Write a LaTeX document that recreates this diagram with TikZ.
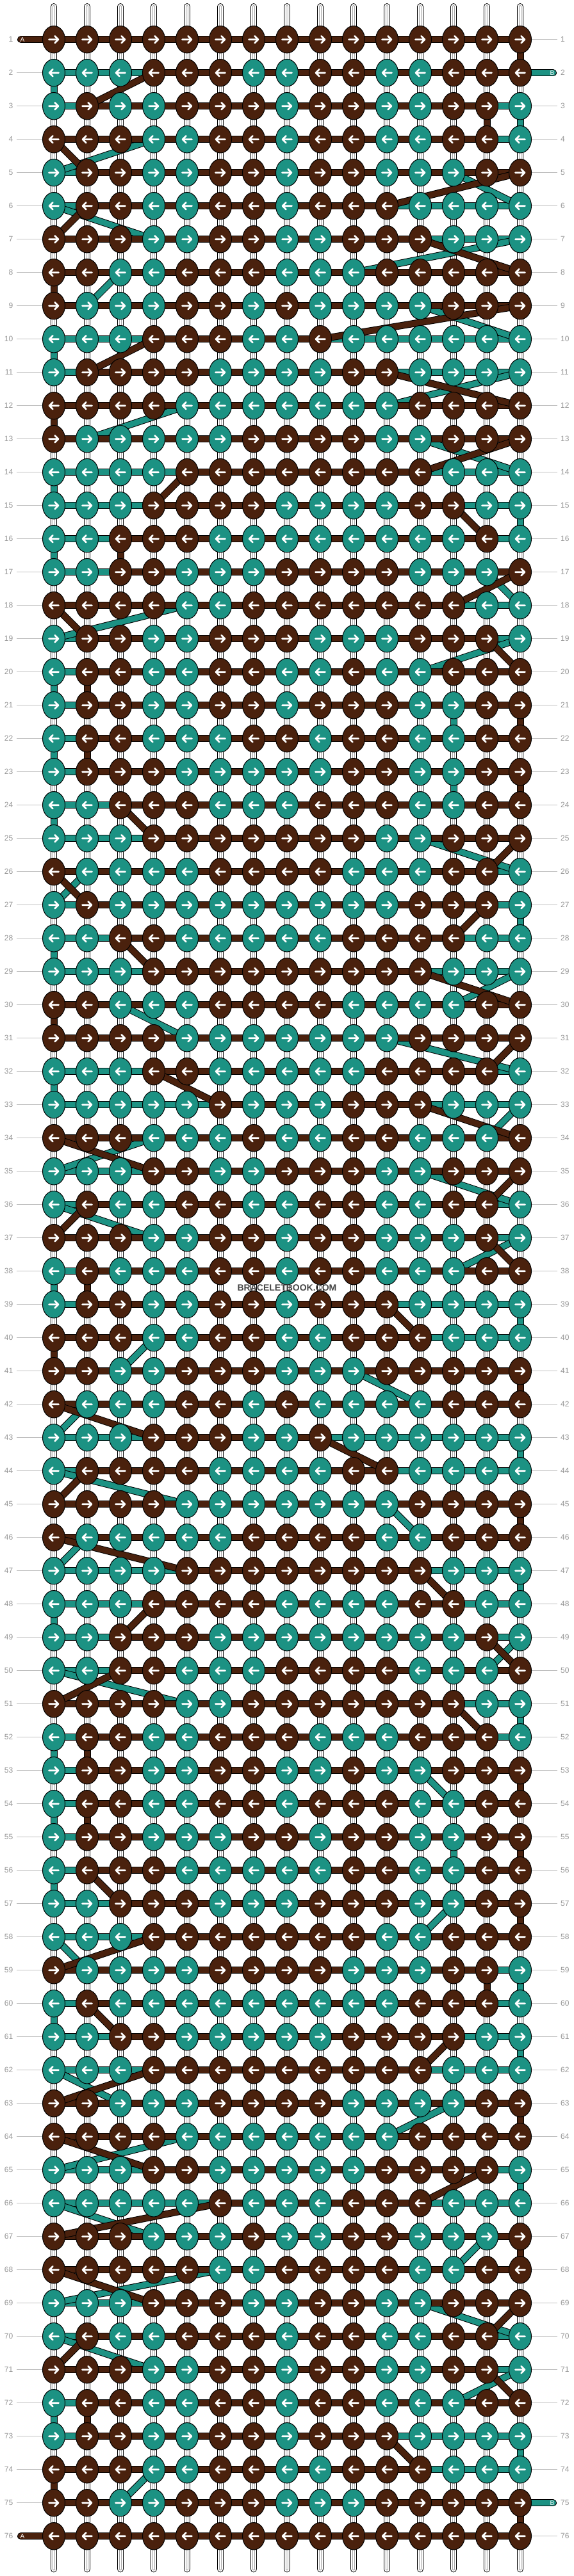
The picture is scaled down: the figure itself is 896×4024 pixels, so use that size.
\documentclass[tikz,border=0pt]{standalone}
\usepackage{fontspec}
\setmainfont{Liberation Sans}
\usepackage{xstring}
\usetikzlibrary{shapes.geometric}
\definecolor{colA}{RGB}{74,33,13}
\definecolor{colB}{RGB}{28,146,131}
\definecolor{lblgray}{RGB}{150,150,150}
\definecolor{linegray}{RGB}{190,190,190}
\definecolor{strgray}{RGB}{165,165,165}
\pgfdeclarelayer{back}
\pgfdeclarelayer{strands}
\pgfsetlayers{back,strands,main}
\newcommand\defrow[2]{\expandafter\gdef\csname pat#1\endcsname{#2}}
\defrow{1}{AAAAAAAAAAAAAAA}
\defrow{2}{TTTAAATTAATTAAA}
\defrow{3}{TATTAAATAATTAAT}
\defrow{4}{AAATTAATAATTAAT}
\defrow{5}{TAATTAATAATTTAA}
\defrow{6}{TAATTAATAAATTTT}
\defrow{7}{AAATTAATTAAATTT}
\defrow{8}{AATTAAATTTAAAAA}
\defrow{9}{ATTTAATATTTTAAA}
\defrow{10}{TTTAAATTATTTTTT}
\defrow{11}{TAAAATTTTAATTTT}
\defrow{12}{AAAATTTTTTTAAAA}
\defrow{13}{ATTTTTAAAATTAAA}
\defrow{14}{TTTTAAAAAAAATTT}
\defrow{15}{TTTAAAATTTTAATT}
\defrow{16}{TTAAATTTTTTTTAT}
\defrow{17}{TTAATTTAAAATTTA}
\defrow{18}{AAAATTAAAAAAATT}
\defrow{19}{TAATTAAATTTAAAT}
\defrow{20}{TAATTAATTATTAAA}
\defrow{21}{TAATTAATAAATTAA}
\defrow{22}{TAATTTAATAATTAA}
\defrow{23}{TAAATTTTTAATTAA}
\defrow{24}{TTAAATTTAAATTAA}
\defrow{25}{TTTAAAAAAATTAAA}
\defrow{26}{ATTTTAAAATTTAAT}
\defrow{27}{TATTTTTTTTTAAAT}
\defrow{28}{TTAATTTTTAAAATT}
\defrow{29}{TTTAAAAAAAAATTT}
\defrow{30}{AATTTAAAATTTTAA}
\defrow{31}{AAAATTTTTTTAAAA}
\defrow{32}{TTTAATTTTTAAAAT}
\defrow{33}{TTTTTATTTAAATTT}
\defrow{34}{AAATTTATTAATTTA}
\defrow{35}{TTTAATTAAATTAAA}
\defrow{36}{TATTAATTAATTAAT}
\defrow{37}{AAATTAATAATTTAT}
\defrow{38}{TATTTAATAATTTAA}
\defrow{39}{TAATTAATAAATTTT}
\defrow{40}{AAATTAATTAAATTT}
\defrow{41}{AATTAAATTTAAAAA}
\defrow{42}{ATTTAATATTTTAAA}
\defrow{43}{TTTAAATTATTTTTT}
\defrow{44}{TAAAATTTTAATTTT}
\defrow{45}{AAAATTTTTTTAAAA}
\defrow{46}{ATTTTTAAAATTAAA}
\defrow{47}{TTTTAAAAAAAATTT}
\defrow{48}{TTTAAAATTTTAATT}
\defrow{49}{TTAAATTTTTTTTAT}
\defrow{50}{TTAATTTAAAATTTA}
\defrow{51}{AAAATTAAAAAAATT}
\defrow{52}{TAATTAAATTTAAAT}
\defrow{53}{TAATTAATTATTAAA}
\defrow{54}{TAATTAATAAATTAA}
\defrow{55}{TAATTTAATAATTAA}
\defrow{56}{TAAATTTTTAATTAA}
\defrow{57}{TTAAATTTAAATTAA}
\defrow{58}{TTTAAAAAAATTAAA}
\defrow{59}{ATTTTAAAATTTAAT}
\defrow{60}{TATTTTTTTTTAAAT}
\defrow{61}{TTAATTTTTAAAATT}
\defrow{62}{TTTAAAAAAAAATTT}
\defrow{63}{AATTTAAAATTTTAA}
\defrow{64}{AAAATTTTTTTAAAA}
\defrow{65}{TTTAATTTTTAAAAT}
\defrow{66}{TTTTTATTTAAATTT}
\defrow{67}{AAATTTATTAATTTA}
\defrow{68}{AAAAATTAAAATTAA}
\defrow{69}{TTTAAATTAATTAAA}
\defrow{70}{TATTAAATAATTAAT}
\defrow{71}{AAATTAATAATTAAT}
\defrow{72}{TAATTAATAATTTAA}
\defrow{73}{TAATTAATAAATTTT}
\defrow{74}{AAATTAATTAAATTT}
\defrow{75}{AATTAAATTTAAAAA}
\defrow{76}{AAAAAAAAAAAAAAA}
% first / last column of each colour in every row
\foreach \rr in {1,...,76}{%
  \edef\pat{\csname pat\rr\endcsname}%
  \StrPosition{\pat}{A}[\tmpf]%
  \StrCount{\pat}{A}[\tmpn]%
  \StrPosition[\tmpn]{\pat}{A}[\tmpl]%
  \expandafter\xdef\csname fA\rr\endcsname{\tmpf}%
  \expandafter\xdef\csname lA\rr\endcsname{\tmpl}%
  \StrCount{\pat}{T}[\tmpn]%
  \ifnum\tmpn>0
    \StrPosition{\pat}{T}[\tmpf]%
    \StrPosition[\tmpn]{\pat}{T}[\tmpl]%
    \expandafter\xdef\csname fT\rr\endcsname{\tmpf}%
    \expandafter\xdef\csname lT\rr\endcsname{\tmpl}%
  \fi
}
% one strand segment: dark edge, then the colour
\newcommand\strandseg[3]{%
  \draw[strandedge] (#2) -- (#3);
  \draw[#1] (#2) -- (#3);
}
\begin{document}
\begin{tikzpicture}[x=1pt,y=-1pt,
  knot/.style={ellipse,draw=black,line width=1pt,minimum width=35pt,minimum height=42.5pt,inner sep=0pt},
  arrw/.style={white,line width=2.7pt,line cap=round,line join=round},
  strandedge/.style={black,line width=11pt,line cap=round},
  strandA/.style={colA,line width=9pt,line cap=round},
  strandB/.style={colB,line width=9pt,line cap=round},
  numlbl/.style={text=lblgray,font=\fontsize{12}{12}\selectfont,inner sep=0pt},
  endlbl/.style={text=white,font=\fontsize{10}{10}\selectfont,inner sep=0pt},
  rowline/.style={linegray,line width=1pt},
  wmark/.style={text=black!72,font=\bfseries\fontsize{14}{14}\selectfont,inner sep=0pt}]
\useasboundingbox (0,0) rectangle (896,4024);
\begin{pgfonlayer}{back}
\fill[white] (0,0) rectangle (896,4024);
\foreach \cc in {1,...,15}{%
  \pgfmathsetmacro\xx{84+52*(\cc-1)}%
  \coordinate (st-\cc) at (\xx,10.4);
  \coordinate (sb-\cc) at (\xx,4013);
  \draw[black,line width=10.7pt,line cap=round] (st-\cc) -- (sb-\cc);
  \draw[white,line width=8.7pt,line cap=round] (st-\cc) -- (sb-\cc);
  \draw[strgray,line width=4.7pt,line cap=round] (st-\cc) -- (sb-\cc);
  \draw[white,line width=2.7pt,line cap=round] (st-\cc) -- (sb-\cc);
}
\end{pgfonlayer}
% knots, arrows and row numbers
\foreach \rr in {1,...,76}{%
  \edef\pat{\csname pat\rr\endcsname}%
  \pgfmathsetmacro\yy{61.7+52*(\rr-1)}%
  \ifodd\rr\relax\def\dir{1}\else\def\dir{-1}\fi
  \foreach \cc in {1,...,15}{%
    \StrChar{\pat}{\cc}[\ch]%
    \IfStrEq{\ch}{A}{\def\kc{colA}}{\def\kc{colB}}%
    \pgfmathsetmacro\xx{84+52*(\cc-1)}%
    \node[knot,fill=\kc] (k-\rr-\cc) at (\xx,\yy) {};
    \draw[arrw] ({\xx-7.5*(\dir)},\yy) -- ({\xx+7*(\dir)},\yy)
      ({\xx+1.5*(\dir)},\yy-5.5) -- ({\xx+7*(\dir)},\yy) -- ({\xx+1.5*(\dir)},\yy+5.5);
  }%
  \node[numlbl,anchor=east] (ln-\rr) at (20.5,\yy) {\rr};
  \node[numlbl,anchor=west] (rn-\rr) at (875,\yy) {\rr};
}
% grey leader lines
\begin{pgfonlayer}{back}
\foreach \rr in {2,...,75}{%
  \pgfmathsetmacro\yy{61.7+52*(\rr-1)}%
  \coordinate (lg-\rr) at (26,\yy);
  \draw[rowline] (lg-\rr) -- (k-\rr-1.west);
}
\foreach \rr in {1,3,4,...,74,76}{%
  \pgfmathsetmacro\yy{61.7+52*(\rr-1)}%
  \coordinate (rg-\rr) at (869.7,\yy);
  \draw[rowline] (k-\rr-15.east) -- (rg-\rr);
}
\end{pgfonlayer}
% strands
\begin{pgfonlayer}{strands}
\coordinate (Bin) at (863.5,113.7);
\coordinate (Bout) at (863.5,3909.7);
\coordinate (Ain) at (32.5,61.7);
\coordinate (Aout) at (32.5,3961.7);
% strand B
\edef\ca{\csname lT2\endcsname}%
\strandseg{strandB}{Bin}{k-2-\ca.center}
\foreach \rr in {2,...,75}{%
  \edef\ca{\csname fT\rr\endcsname}\edef\cb{\csname lT\rr\endcsname}%
  \strandseg{strandB}{k-\rr-\ca.center}{k-\rr-\cb.center}
}
\foreach \rr in {2,...,74}{%
  \pgfmathtruncatemacro\rn{\rr+1}%
  \ifodd\rr\relax
    \edef\ca{\csname lT\rr\endcsname}\edef\cb{\csname lT\rn\endcsname}%
  \else
    \edef\ca{\csname fT\rr\endcsname}\edef\cb{\csname fT\rn\endcsname}%
  \fi
  \strandseg{strandB}{k-\rr-\ca.center}{k-\rn-\cb.center}
}
\edef\ca{\csname lT75\endcsname}%
\strandseg{strandB}{k-75-\ca.center}{Bout}
% strand A
\strandseg{strandA}{Ain}{k-1-1.center}
\foreach \rr in {1,...,76}{%
  \edef\ca{\csname fA\rr\endcsname}\edef\cb{\csname lA\rr\endcsname}%
  \strandseg{strandA}{k-\rr-\ca.center}{k-\rr-\cb.center}
}
\foreach \rr in {1,...,75}{%
  \pgfmathtruncatemacro\rn{\rr+1}%
  \ifodd\rr\relax
    \edef\ca{\csname lA\rr\endcsname}\edef\cb{\csname lA\rn\endcsname}%
  \else
    \edef\ca{\csname fA\rr\endcsname}\edef\cb{\csname fA\rn\endcsname}%
  \fi
  \strandseg{strandA}{k-\rr-\ca.center}{k-\rn-\cb.center}
}
\strandseg{strandA}{k-76-1.center}{Aout}
\end{pgfonlayer}
% end labels and watermark
\node[endlbl] (labA1) at (35,61.7) {A};
\node[endlbl] (labA2) at (35,3961.7) {A};
\node[endlbl] (labB1) at (862,113.7) {B};
\node[endlbl] (labB2) at (862,3909.7) {B};
\node[wmark] (wm) at (448,2011.5) {BRACELETBOOK.COM};
\end{tikzpicture}
\end{document}
